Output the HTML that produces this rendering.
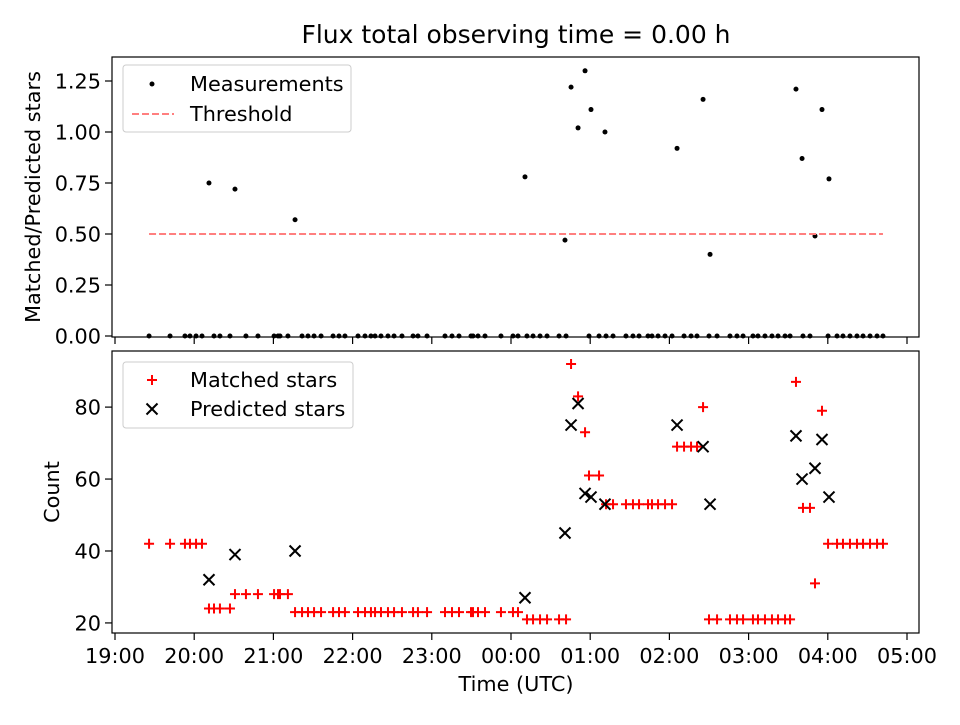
<!DOCTYPE html>
<html><head><meta charset="utf-8"><style>
body{margin:0;background:#fff;}
svg text{font-family:"DejaVu Sans","Liberation Sans",sans-serif;fill:#000;}
</style></head><body>
<svg id="c" width="960" height="720" viewBox="0 0 960 720" xmlns="http://www.w3.org/2000/svg"></svg>
<script>
// minutes after 19:00
const matchedTimes=[25.8,41.7,53,56.8,61.4,65.9,71.2,75,79.5,87.1,90.9,99.2,108.3,120.5,123.5,125,131,136.4,141.7,146.2,150.8,156.1,165.2,169.7,174.2,184.1,189.4,193.9,197,201.5,206.8,211.4,217.4,225.8,229.5,236.4,250,255.3,260.6,269.7,271.2,275,280.3,292.4,301.5,305.3,312.1,316.7,322,327.3,336.4,341.7,345.5,350.8,356.1,359.1,366.7,372,377.3,387.1,392.4,397,403.8,406.8,411.4,416.7,422,425.8,431.1,436.4,440.9,445.5,450,456.1,465.9,471.2,475.8,483.3,487.1,492.4,497.7,502.3,507.6,511.4,515.9,521.2,526.5,530.3,535.6,540.2,547,551.5,556.8,562.1,566.7,572,577.3,581.8];
const matchedCounts=[42,42,42,42,42,42,24,24,24,24,28,28,28,28,28,28,28,23,23,23,23,23,23,23,23,23,23,23,23,23,23,23,23,23,23,23,23,23,23,23,23,23,23,23,23,23,21,21,21,21,21,21,92,83,73,61,61,53,53,53,53,53,53,53,53,53,53,69,69,69,69,80,21,21,21,21,21,21,21,21,21,21,21,21,87,52,52,31,79,42,42,42,42,42,42,42,42,42];
const predTimes=[71.2,90.9,136.4,310.6,340.9,345.5,350.8,356.1,360.6,371.2,425.8,445.5,450.8,515.9,520.5,530.3,535.6,540.9];
const predCounts=[32,39,40,27,45,75,81,56,55,53,75,69,53,72,60,63,71,55];
const ratioValues=[0.75,0.72,0.57,0.78,0.47,1.22,1.02,1.30,1.11,1.00,0.92,1.16,0.40,1.21,0.87,0.49,1.11,0.77];
const threshold=0.5;
const xTickLabels=["19:00","20:00","21:00","22:00","23:00","00:00","01:00","02:00","03:00","04:00","05:00"];
const topTicks=[0,0.25,0.5,0.75,1.0,1.25];
const botTicks=[20,40,60,80];

const NS="http://www.w3.org/2000/svg";
const svg=document.getElementById('c');
function mk(tag,attrs,parent,name,inter){const e=document.createElementNS(NS,tag);for(const k in attrs)e.setAttribute(k,attrs[k]);


(parent||svg).appendChild(e);return e;}
const L=112,R=919;
const FS='20.8';
const xs=m=>115+m*79.2/60;
const T={top:57,bot:337,zeroY:336,pxPerUnit:204};
const B={top:351,bot:633,min:17.2,max:95.6};
const yT=v=>T.zeroY-v*T.pxPerUnit;
const yB=v=>B.bot-(v-B.min)/(B.max-B.min)*(B.bot-B.top);

mk('text',{x:516,y:43,'font-size':'25','text-anchor':'middle'},null,'chart-title').textContent='Flux total observing time = 0.00 h';

function axes(P,ys,ticks,fmt,labelX,name){
  const g=mk('g',{},null,name+'-axes');
  xTickLabels.forEach((t,i)=>{const x=xs(i*60);
    mk('line',{x1:x,x2:x,y1:P.bot,y2:P.bot+7,stroke:'#000','stroke-width':1.2},g,'x-tick');
    if(labelX){mk('text',{x:x,y:P.bot+30,'font-size':FS,'text-anchor':'middle'},g,'x-tick-label').textContent=t;}
  });
  ticks.forEach(v=>{const y=ys(v);
    mk('line',{x1:L-7,x2:L,y1:y,y2:y,stroke:'#000','stroke-width':1.2},g,'y-tick');
    mk('text',{x:L-11,y:y+7.5,'font-size':FS,'text-anchor':'end'},g,'y-tick-label').textContent=fmt(v);
  });
  return g;
}
function frame(P,name){mk('rect',{x:L,y:P.top,width:R-L,height:P.bot-P.top,fill:'none',stroke:'#000','stroke-width':1.2},null,name+'-frame');}

axes(T,yT,topTicks,v=>v.toFixed(2),false,'top');
mk('text',{x:0,y:0,'font-size':FS,'text-anchor':'middle',transform:'translate(40,197) rotate(-90)'},null,'top-y-axis-title').textContent='Matched/Predicted stars';
const tp=mk('g',{},null,'measurements-series');
mk('line',{x1:xs(matchedTimes[0]),x2:xs(matchedTimes[matchedTimes.length-1]),y1:yT(threshold),y2:yT(threshold),stroke:'#ff7f7f','stroke-width':2,'stroke-dasharray':'7,3'},null,'threshold-line');
matchedTimes.forEach(t=>{if(predTimes.some(p=>Math.abs(p-t)<0.5))return;mk('circle',{cx:xs(t),cy:yT(0),r:2.5,fill:'#000'},tp,'measurement-point');});
predTimes.forEach((t,i)=>{mk('circle',{cx:xs(t),cy:yT(ratioValues[i]),r:2.5,fill:'#000'},tp,'measurement-point');});
frame(T,'top');
const lg1=mk('g',{},null,'top-legend');
mk('rect',{x:123,y:65,width:228,height:67,rx:3,fill:'#fff',stroke:'#ccc','stroke-width':1},lg1,'legend-box');
mk('circle',{cx:152,cy:84,r:2.5,fill:'#000'},lg1,'legend-marker-measurements');
mk('text',{x:190,y:91,'font-size':FS},lg1,'legend-label-measurements').textContent='Measurements';
mk('line',{x1:132,x2:174,y1:114,y2:114,stroke:'#ff7f7f','stroke-width':2,'stroke-dasharray':'7,3'},lg1,'legend-marker-threshold');
mk('text',{x:190,y:121,'font-size':FS},lg1,'legend-label-threshold').textContent='Threshold';

axes(B,yB,botTicks,v=>String(v),true,'bottom');
mk('text',{x:0,y:0,'font-size':FS,'text-anchor':'middle',transform:'translate(59,492) rotate(-90)'},null,'bottom-y-axis-title').textContent='Count';
mk('text',{x:516,y:691,'font-size':FS,'text-anchor':'middle'},null,'x-axis-title').textContent='Time (UTC)';
function plus(x,y,g,n){return mk('path',{d:`M${x-5},${y}H${x+5}M${x},${y-5}V${y+5}`,stroke:'#ff0000','stroke-width':2,fill:'none'},g,n);}
function cross(x,y,g,n){return mk('path',{d:`M${x-5.5},${y-5.5}L${x+5.5},${y+5.5}M${x-5.5},${y+5.5}L${x+5.5},${y-5.5}`,stroke:'#000','stroke-width':2,fill:'none'},g,n);}
const gm=mk('g',{},null,'matched-series');
matchedTimes.forEach((t,i)=>plus(xs(t),yB(matchedCounts[i]),gm,'matched-point'));
const gp=mk('g',{},null,'predicted-series');
predTimes.forEach((t,i)=>cross(xs(t),yB(predCounts[i]),gp,'predicted-point'));
frame(B,'bottom');
const lg2=mk('g',{},null,'bottom-legend');
mk('rect',{x:123,y:362,width:230,height:66,rx:3,fill:'#fff',stroke:'#ccc','stroke-width':1},lg2,'legend-box');
plus(152,380,lg2,'legend-marker-matched');
mk('text',{x:190,y:387,'font-size':FS},lg2,'legend-label-matched').textContent='Matched stars';
cross(152,409,lg2,'legend-marker-predicted');
mk('text',{x:190,y:416,'font-size':FS},lg2,'legend-label-predicted').textContent='Predicted stars';
</script>
</body></html>
